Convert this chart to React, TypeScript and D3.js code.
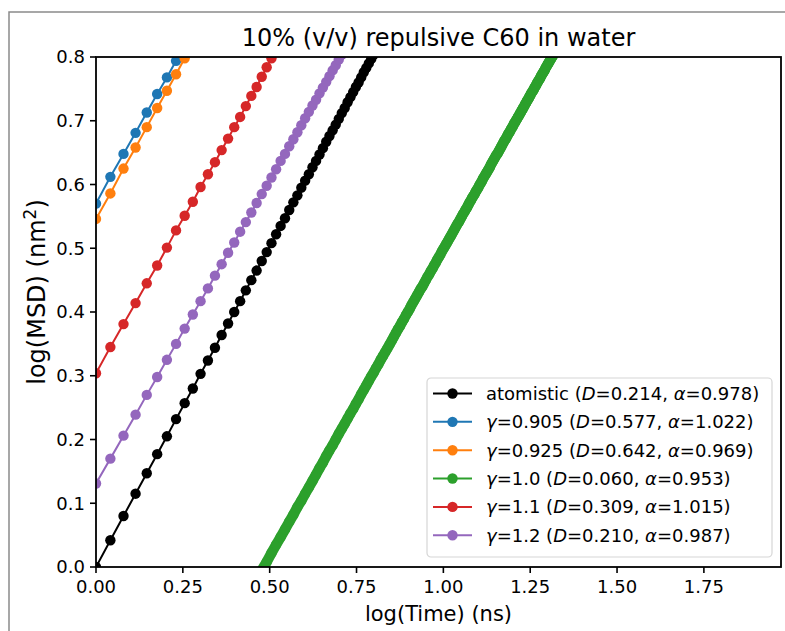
import * as d3 from 'd3';

// sampling grid of the MSD curves: t = 1.0, 1.1, 1.2, ... ns
const timeStartNs = 1.0;
const timeStepNs = 0.1;

// log10(MSD / nm^2) at each sampling time
const atomisticLogMsd = [
  0.0, 0.042, 0.08, 0.115, 0.147, 0.177, 0.205, 0.232, 0.257, 0.28,
  0.303, 0.324, 0.344, 0.364, 0.382, 0.4, 0.417, 0.434, 0.45, 0.465,
  0.48, 0.494, 0.508, 0.522, 0.535, 0.547, 0.56, 0.572, 0.583, 0.595,
  0.606, 0.616, 0.627, 0.637, 0.647, 0.657, 0.667, 0.676, 0.685, 0.694,
  0.703, 0.712, 0.72, 0.729, 0.737, 0.745, 0.753, 0.76, 0.768, 0.776,
  0.783, 0.79, 0.797, 0.804, 0.811,
];
const gamma0905LogMsd = [0.57, 0.612, 0.648, 0.681, 0.713, 0.742, 0.768, 0.794, 0.818];
const gamma0925LogMsd = [0.546, 0.586, 0.625, 0.658, 0.69, 0.72, 0.747, 0.773, 0.798, 0.821];
const gamma10LogMsd = [
  -0.465, -0.425, -0.389, -0.356, -0.325, -0.296, -0.269, -0.243, -0.219, -0.197,
  -0.175, -0.155, -0.135, -0.117, -0.099, -0.082, -0.065, -0.049, -0.034, -0.02,
  -0.005, 0.008, 0.022, 0.035, 0.047, 0.059, 0.071, 0.082, 0.094, 0.104,
  0.115, 0.125, 0.135, 0.145, 0.155, 0.164, 0.174, 0.183, 0.191, 0.2,
  0.209, 0.217, 0.225, 0.233, 0.241, 0.248, 0.256, 0.263, 0.271, 0.278,
  0.285, 0.292, 0.299, 0.305, 0.312, 0.318, 0.325, 0.331, 0.337, 0.343,
  0.349, 0.355, 0.361, 0.367, 0.373, 0.378, 0.384, 0.389, 0.395, 0.4,
  0.405, 0.411, 0.416, 0.421, 0.426, 0.431, 0.436, 0.44, 0.445, 0.45,
  0.455, 0.459, 0.464, 0.468, 0.473, 0.477, 0.482, 0.486, 0.49, 0.495,
  0.499, 0.503, 0.507, 0.511, 0.515, 0.519, 0.523, 0.527, 0.531, 0.535,
  0.539, 0.542, 0.546, 0.55, 0.554, 0.557, 0.561, 0.564, 0.568, 0.572,
  0.575, 0.579, 0.582, 0.585, 0.589, 0.592, 0.595, 0.599, 0.602, 0.605,
  0.609, 0.612, 0.615, 0.618, 0.621, 0.624, 0.627, 0.631, 0.634, 0.637,
  0.64, 0.643, 0.646, 0.648, 0.651, 0.654, 0.657, 0.66, 0.663, 0.666,
  0.669, 0.671, 0.674, 0.677, 0.68, 0.682, 0.685, 0.688, 0.69, 0.693,
  0.696, 0.698, 0.701, 0.703, 0.706, 0.708, 0.711, 0.713, 0.716, 0.718,
  0.721, 0.723, 0.726, 0.728, 0.731, 0.733, 0.735, 0.738, 0.74, 0.743,
  0.745, 0.747, 0.749, 0.752, 0.754, 0.756, 0.759, 0.761, 0.763, 0.765,
  0.767, 0.77, 0.772, 0.774, 0.776, 0.778, 0.78, 0.783, 0.785, 0.787,
  0.789, 0.791, 0.793, 0.795, 0.797, 0.799, 0.801, 0.803, 0.805, 0.807,
];
const gamma11LogMsd = [
  0.304, 0.345, 0.381, 0.414, 0.445, 0.473, 0.501, 0.528, 0.551, 0.573,
  0.596, 0.616, 0.635, 0.654, 0.672, 0.69, 0.706, 0.723, 0.739, 0.753,
  0.769, 0.784, 0.798, 0.811,
];
const gamma12LogMsd = [
  0.131, 0.17, 0.206, 0.239, 0.27, 0.298, 0.325, 0.35, 0.374, 0.396,
  0.417, 0.437, 0.457, 0.475, 0.493, 0.509, 0.526, 0.541, 0.556, 0.571,
  0.585, 0.598, 0.611, 0.624, 0.637, 0.648, 0.66, 0.671, 0.682, 0.693,
  0.704, 0.714, 0.724, 0.733, 0.743, 0.752, 0.761, 0.77, 0.779, 0.787,
  0.796, 0.804, 0.812,
];

const seriesValues = [
  atomisticLogMsd, gamma0905LogMsd, gamma0925LogMsd,
  gamma10LogMsd, gamma11LogMsd, gamma12LogMsd,
];
const seriesColors = ['#000000', '#1f77b4', '#ff7f0e', '#2ca02c', '#d62728', '#9467bd'];
// the gamma=1.0 run is sampled so densely that its markers merge into one band
const seriesDense = [false, false, false, true, false, false];
const seriesPrefix = ['atomistic', '=0.905', '=0.925', '=1.0', '=1.1', '=1.2'];
const seriesD = ['0.214', '0.577', '0.642', '0.060', '0.309', '0.210'];
const seriesAlpha = ['0.978', '1.022', '0.969', '0.953', '1.015', '0.987'];

const xTicks = [0, 0.25, 0.5, 0.75, 1.0, 1.25, 1.5, 1.75];
const yTicks = [0, 0.1, 0.2, 0.3, 0.4, 0.5, 0.6, 0.7, 0.8];
const xDomain = [0, 1.972];
const yDomain = [0, 0.8];

const W = 785;
const H = 631;
const margin = { top: 57, right: 4, bottom: 64, left: 96 };
const innerW = W - margin.left - margin.right;
const innerH = H - margin.top - margin.bottom;
const FONT = 'DejaVu Sans, sans-serif';
const MARKER_R = 5.2;

export default function App() {
  const x = d3.scaleLinear().domain(xDomain).range([0, innerW]);
  const y = d3.scaleLinear().domain(yDomain).range([innerH, 0]);

  const toPoints = (values: number[]) =>
    values.map((v, i) => [Math.log10(timeStartNs + i * timeStepNs), v] as [number, number]);

  const line = d3.line<[number, number]>()
    .x((d) => x(d[0]))
    .y((d) => y(d[1]));

  const legendX = 427;
  const legendY = 378;
  const legendW = 345;
  const legendH = 179;
  const rowH = 28.35;

  return (
    <svg
      width={W}
      height={H}
      style={{ position: 'absolute', left: 0, top: 0, background: '#fff' }}
      fontFamily={FONT}
    >
      <rect x={0} y={0} width={W} height={H} fill="#fff" />
      <path d={`M9,${H} V12 H${W}`} fill="none" stroke="#8a8a8a" strokeWidth={1.5} />

      <text x={margin.left + innerW / 2} y={46} textAnchor="middle" fontSize={24}>
        10% (v/v) repulsive C60 in water
      </text>

      <defs>
        <clipPath id="plot-clip">
          <rect x={0} y={0} width={innerW} height={innerH} />
        </clipPath>
      </defs>

      <g transform={`translate(${margin.left},${margin.top})`}>
        <g clipPath="url(#plot-clip)">
          {seriesValues.map((values, si) => {
            const pts = toPoints(values);
            return (
              <g key={si}>
                <path
                  d={line(pts) || ''}
                  fill="none"
                  stroke={seriesColors[si]}
                  strokeWidth={seriesDense[si] ? MARKER_R * 2 : 2}
                  strokeLinecap="round"
                />
                {pts.map((p, pi) => (
                  <circle key={pi} cx={x(p[0])} cy={y(p[1])} r={MARKER_R} fill={seriesColors[si]} />
                ))}
              </g>
            );
          })}
        </g>

        {/* x axis ticks */}
        {xTicks.map((t) => (
          <g key={t} transform={`translate(${x(t)},${innerH})`}>
            <line y1={0} y2={6} stroke="#000" strokeWidth={1.6} />
            <text y={26} textAnchor="middle" fontSize={18}>{t.toFixed(2)}</text>
          </g>
        ))}
        {/* y axis ticks */}
        {yTicks.map((t) => (
          <g key={t} transform={`translate(0,${y(t)})`}>
            <line x1={0} x2={-6} stroke="#000" strokeWidth={1.6} />
            <text x={-11} dy="0.36em" textAnchor="end" fontSize={18}>{t.toFixed(1)}</text>
          </g>
        ))}

        <rect x={0} y={0} width={innerW} height={innerH} fill="none" stroke="#000" strokeWidth={1.8} />

        <text x={innerW / 2} y={innerH + 54} textAnchor="middle" fontSize={21}>
          log(Time) (ns)
        </text>
        <text
          transform={`translate(${-51},${innerH / 2 - 20}) rotate(-90)`}
          textAnchor="middle"
          fontSize={24}
        >
          log(MSD) (nm<tspan dy={-9} fontSize={17}>2</tspan><tspan dy={9}>)</tspan>
        </text>
      </g>

      {/* legend */}
      <g transform={`translate(${legendX},${legendY})`}>
        <rect
          x={0}
          y={0}
          width={legendW}
          height={legendH}
          rx={4}
          fill="#fff"
          fillOpacity={0.8}
          stroke="#d6d6d6"
          strokeWidth={1.2}
        />
        {seriesColors.map((color, i) => {
          const cy = 15.5 + i * rowH;
          return (
            <g key={i}>
              <line x1={6} x2={45} y1={cy} y2={cy} stroke={color} strokeWidth={2} />
              <circle cx={25.5} cy={cy} r={MARKER_R} fill={color} />
              <text x={59} y={cy} dy="0.36em" fontSize={18}>
                {i === 0 ? (
                  <tspan>{seriesPrefix[i]}</tspan>
                ) : (
                  <>
                    <tspan fontStyle="italic">γ</tspan>
                    <tspan>{seriesPrefix[i]}</tspan>
                  </>
                )}
                <tspan> (</tspan>
                <tspan fontStyle="italic">D</tspan>
                <tspan>={seriesD[i]}, </tspan>
                <tspan fontStyle="italic">α</tspan>
                <tspan>={seriesAlpha[i]})</tspan>
              </text>
            </g>
          );
        })}
      </g>
    </svg>
  );
}
